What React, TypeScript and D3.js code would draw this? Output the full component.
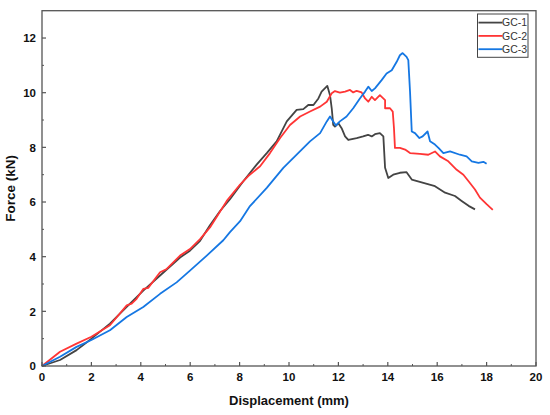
import * as d3 from 'd3'

// displacement (mm) / force (kN)
const gc1X = [0, 0.73, 1.4, 2.0, 2.75, 3.43, 4.1, 4.78, 5.59, 5.99, 6.4, 6.8, 7.21, 7.61, 8.15, 8.69, 9.1, 9.5, 9.91, 10.31, 10.58, 10.78, 10.99, 11.19, 11.32, 11.55, 11.66, 11.73, 11.79, 11.86, 12.0, 12.13, 12.27, 12.4, 12.74, 13.0, 13.2, 13.35, 13.48, 13.68, 13.82, 13.89, 14.02, 14.22, 14.49, 14.76, 14.97, 15.44, 15.91, 16.32, 16.72, 16.99, 17.27, 17.53]
const gc1Y = [0, 0.22, 0.58, 1.0, 1.55, 2.16, 2.76, 3.31, 3.97, 4.22, 4.58, 5.15, 5.67, 6.1, 6.76, 7.37, 7.79, 8.22, 8.95, 9.37, 9.4, 9.55, 9.55, 9.79, 10.04, 10.25, 9.91, 9.43, 8.82, 8.76, 8.88, 8.7, 8.4, 8.27, 8.34, 8.4, 8.46, 8.4, 8.48, 8.52, 8.4, 7.25, 6.88, 7.0, 7.07, 7.09, 6.82, 6.7, 6.58, 6.34, 6.22, 6.04, 5.86, 5.73]

const gc2X = [0, 0.73, 1.4, 2.0, 2.75, 3.43, 3.63, 3.83, 4.1, 4.3, 4.78, 5.05, 5.59, 5.99, 6.4, 6.8, 7.48, 8.02, 8.35, 8.83, 9.23, 9.64, 10.04, 10.45, 10.85, 11.26, 11.53, 11.73, 11.86, 12.06, 12.27, 12.47, 12.6, 12.74, 12.94, 13.08, 13.21, 13.35, 13.48, 13.68, 13.89, 13.89, 14.09, 14.2, 14.25, 14.29, 14.49, 14.7, 14.9, 15.3, 15.64, 15.91, 16.11, 16.45, 16.79, 17.06, 17.27, 17.53, 17.73, 18.0, 18.25]
const gc2Y = [0, 0.52, 0.82, 1.07, 1.49, 2.22, 2.28, 2.46, 2.82, 2.86, 3.43, 3.55, 4.04, 4.28, 4.64, 5.07, 6.04, 6.64, 6.95, 7.31, 7.79, 8.34, 8.82, 9.13, 9.31, 9.49, 9.67, 9.98, 10.06, 10.0, 10.04, 10.1, 10.01, 10.07, 10.01, 9.79, 9.67, 9.85, 9.73, 9.91, 9.73, 9.43, 9.43, 9.31, 8.7, 7.98, 7.98, 7.92, 7.79, 7.76, 7.73, 7.85, 7.67, 7.49, 7.18, 7.0, 6.76, 6.46, 6.16, 5.92, 5.71]

const gc3X = [0, 0.73, 1.4, 2.0, 2.75, 3.43, 4.1, 4.78, 5.45, 5.99, 6.67, 7.34, 7.61, 8.02, 8.42, 9.1, 9.77, 10.31, 10.85, 11.26, 11.53, 11.66, 11.79, 11.9, 12.06, 12.33, 12.6, 12.87, 13.08, 13.21, 13.35, 13.48, 13.75, 13.95, 14.16, 14.36, 14.49, 14.6, 14.76, 14.83, 14.9, 14.97, 15.1, 15.28, 15.41, 15.61, 15.71, 15.91, 16.05, 16.25, 16.52, 16.92, 17.19, 17.4, 17.67, 17.87, 18.0]
const gc3Y = [0, 0.34, 0.7, 0.95, 1.31, 1.79, 2.16, 2.64, 3.06, 3.49, 4.04, 4.6, 4.9, 5.3, 5.85, 6.52, 7.25, 7.73, 8.22, 8.52, 8.95, 9.13, 8.95, 8.8, 8.95, 9.13, 9.43, 9.79, 10.04, 10.22, 10.06, 10.16, 10.46, 10.7, 10.82, 11.13, 11.37, 11.45, 11.31, 11.19, 10.04, 8.58, 8.52, 8.34, 8.4, 8.58, 8.22, 8.1, 7.98, 7.79, 7.85, 7.73, 7.67, 7.49, 7.43, 7.47, 7.4]

const seriesNames = ['GC-1', 'GC-2', 'GC-3']
const seriesColors = ['#444444', '#ff3535', '#1577e3']
const xTicks = [0, 2, 4, 6, 8, 10, 12, 14, 16, 18, 20]
const yTicks = [0, 2, 4, 6, 8, 10, 12]

type Pt = { x: number; y: number }

const zip = (xs: number[], ys: number[]): Pt[] => xs.map((x, i) => ({ x, y: ys[i] }))

export default function App() {
  const width = 550
  const height = 415
  const margin = { top: 10.7, right: 14, bottom: 49, left: 42 }
  const innerWidth = width - margin.left - margin.right
  const innerHeight = height - margin.top - margin.bottom

  const x = d3.scaleLinear().domain([0, 20]).range([0, innerWidth])
  const y = d3.scaleLinear().domain([0, 13]).range([innerHeight, 0])
  const line = d3
    .line<Pt>()
    .x((d) => x(d.x))
    .y((d) => y(d.y))

  const series = [zip(gc1X, gc1Y), zip(gc2X, gc2Y), zip(gc3X, gc3Y)]
  const xMinor = d3.range(1, 20, 2)
  const yMinor = d3.range(1, 13, 2)
  const font = '"Liberation Sans", Arial, sans-serif'
  const axisColor = '#555'

  return (
    <svg width={width} height={height} style={{ position: 'absolute', left: 0, top: 0, background: '#fff' }} fontFamily={font}>
      <g transform={`translate(${margin.left},${margin.top})`}>
        {series.map((pts, i) => (
          <path key={seriesNames[i]} d={line(pts) ?? ''} fill="none" stroke={seriesColors[i]} strokeWidth={1.8} strokeLinejoin="round" />
        ))}

        <rect x={0} y={0} width={innerWidth} height={innerHeight} fill="none" stroke={axisColor} strokeWidth={1.3} />

        {xTicks.map((t) => (
          <g key={`x${t}`} transform={`translate(${x(t)},0)`}>
            <line y1={innerHeight} y2={innerHeight - 4} stroke={axisColor} strokeWidth={1.2} />
            <text y={innerHeight + 15.5} textAnchor="middle" fontSize={11.5} fontWeight="bold" fill="#111">
              {t}
            </text>
          </g>
        ))}
        {xMinor.map((t) => (
          <line key={`xm${t}`} x1={x(t)} x2={x(t)} y1={innerHeight} y2={innerHeight - 2} stroke={axisColor} strokeWidth={1} />
        ))}

        {yTicks.map((t) => (
          <g key={`y${t}`} transform={`translate(0,${y(t)})`}>
            <line x1={0} x2={4} stroke={axisColor} strokeWidth={1.2} />
            <text x={-6} y={4.3} textAnchor="end" fontSize={11.5} fontWeight="bold" fill="#111">
              {t}
            </text>
          </g>
        ))}
        {yMinor.map((t) => (
          <line key={`ym${t}`} x1={0} x2={2} y1={y(t)} y2={y(t)} stroke={axisColor} strokeWidth={1} />
        ))}

        <text x={innerWidth / 2} y={innerHeight + 39} textAnchor="middle" fontSize={13} fontWeight="bold" fill="#111">
          Displacement (mm)
        </text>
        <text
          transform={`translate(${-27},${innerHeight / 2}) rotate(-90)`}
          textAnchor="middle"
          fontSize={13.5}
          fontWeight="bold"
          fill="#111"
        >
          Force (kN)
        </text>

        <g transform={`translate(${435.5},${3.3})`}>
          <rect x={0} y={0} width={50.5} height={43.3} fill="#fff" stroke="#444" strokeWidth={1} />
          {seriesNames.map((name, i) => (
            <g key={name} transform={`translate(0,${8.6 + i * 13.3})`}>
              <line x1={1} x2={25} stroke={seriesColors[i]} strokeWidth={1.8} />
              <text x={24.5} y={3.7} fontSize={10.5} fill="#333">
                {name}
              </text>
            </g>
          ))}
        </g>
      </g>
    </svg>
  )
}
